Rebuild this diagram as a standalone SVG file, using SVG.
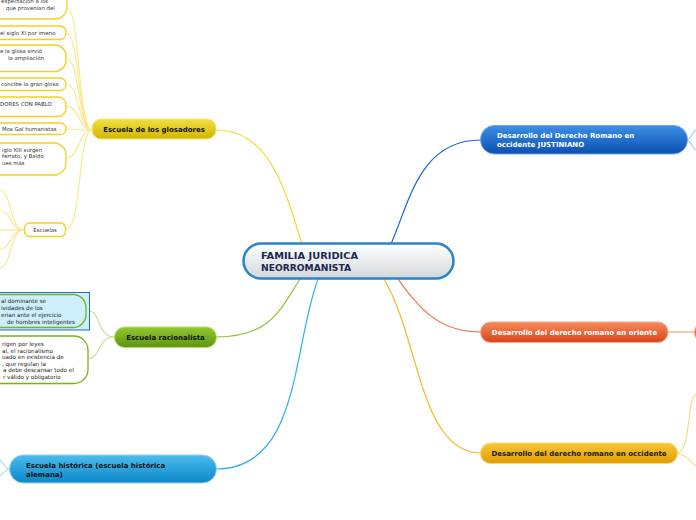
<svg xmlns="http://www.w3.org/2000/svg" width="696" height="520" viewBox="0 0 696 520">
<defs>
<linearGradient id="gCentral" x1="0" y1="0" x2="0" y2="1"><stop offset="0" stop-color="#ffffff"/><stop offset="1" stop-color="#d3d8dc"/></linearGradient>
<linearGradient id="gBlue" x1="0" y1="0" x2="0" y2="1"><stop offset="0" stop-color="#3d8fe4"/><stop offset="1" stop-color="#0b4fb2"/></linearGradient>
<linearGradient id="gOrange" x1="0" y1="0" x2="0" y2="1"><stop offset="0" stop-color="#f58a5e"/><stop offset="1" stop-color="#d8461a"/></linearGradient>
<linearGradient id="gGold" x1="0" y1="0" x2="0" y2="1"><stop offset="0" stop-color="#f8c63a"/><stop offset="1" stop-color="#e09d00"/></linearGradient>
<linearGradient id="gSky" x1="0" y1="0" x2="0" y2="1"><stop offset="0" stop-color="#4cbcee"/><stop offset="1" stop-color="#0a87c8"/></linearGradient>
<linearGradient id="gGreen" x1="0" y1="0" x2="0" y2="1"><stop offset="0" stop-color="#93c830"/><stop offset="1" stop-color="#5c9610"/></linearGradient>
<linearGradient id="gYellow" x1="0" y1="0" x2="0" y2="1"><stop offset="0" stop-color="#f0e040"/><stop offset="1" stop-color="#d2b500"/></linearGradient>
</defs>
<style>
.c{fill:none;stroke-width:1.2}
.t{font-family:"DejaVu Sans",Verdana,sans-serif;font-weight:bold;font-size:7px}
.s{font-family:"DejaVu Sans",Verdana,sans-serif;font-size:5.4px;fill:#333}
.r{font-family:"DejaVu Sans",Verdana,sans-serif;font-size:5.6px;fill:#1a1a1a}
.yb{fill:#fff;stroke:#f0d21c;stroke-width:1.3}
</style>
<rect width="696" height="520" fill="#fff"/>
<g id="connectors">
<path class="c" stroke="#1a64d0" d="M391,244 C410,200 420,140 481,140"/>
<path class="c" stroke="#f0d832" d="M302,244 C285,190 270,130 216,130"/>
<path class="c" stroke="#8fc23a" d="M300,279 C280,310 270,337 216,337"/>
<path class="c" stroke="#30b0e8" d="M318,279 C292,350 300,469 216,469"/>
<path class="c" stroke="#f5b820" d="M384,279 C420,340 420,453 481,453"/>
<path class="c" stroke="#f06a3c" d="M398,279 C420,310 440,332 481,332"/>
<g stroke="#a8c8f0" class="c"><path d="M687,140 C692,138 692,132 696,130"/><path d="M687,140 C692,142 692,148 696,150"/></g>
<path class="c" stroke="#f5a080" d="M668,332 L695,332"/>
<g stroke="#fad890" class="c"><path d="M677,453 C692,450 686,400 696,394"/><path d="M677,453 C688,455 690,462 696,466"/></g>
<g stroke="#a8daf4" class="c"><path d="M9,469 C5,468 3,462 0,460"/><path d="M9,469 C5,470 3,474 0,476"/></g>
<g stroke="#c8e294" class="c"><path d="M114,337 C98,337 100,311 89,311"/><path d="M114,337 C98,337 100,359 88,359"/></g>
<g stroke="#f8e890" class="c">
<path d="M92,130 C78,130 80,8 67,8"/>
<path d="M92,130 C78,130 80,33 66,33"/>
<path d="M92,130 C78,130 80,58 66,58"/>
<path d="M92,130 C78,130 80,84 66,84"/>
<path d="M92,130 C78,130 80,106 66,106"/>
<path d="M92,130 C80,130 78,129 66,129"/>
<path d="M92,130 C78,130 80,158 66,158"/>
<path d="M92,130 C78,130 82,229 66,229"/>
<path d="M24,230 C10,230 12,192 0,190"/>
<path d="M24,230 C10,230 12,212 0,210"/>
<path d="M24,230 L0,230"/>
<path d="M24,230 C10,230 12,248 0,249"/>
<path d="M24,230 C10,230 12,266 0,268"/>
</g>
</g>
<g id="central">
<rect x="243.5" y="243.5" width="210" height="35" rx="17.5" fill="url(#gCentral)" stroke="#2a85c8" stroke-width="2.5"/>
<text class="t" x="261" y="259" fill="#1a2a50" style="font-size:8.6px" textLength="97" lengthAdjust="spacingAndGlyphs">FAMILIA JURIDICA</text>
<text class="t" x="261" y="270.5" fill="#1a2a50" style="font-size:8.6px" textLength="90" lengthAdjust="spacingAndGlyphs">NEORROMANISTA</text>
</g>
<g id="n-occ-justiniano">
<rect x="480.5" y="125.5" width="207" height="28.5" rx="14" fill="url(#gBlue)" stroke="#6ea8ec" stroke-width="1"/>
<text class="t" x="497" y="138" fill="#fff">Desarrollo del Derecho Romano en</text>
<text class="t" x="497" y="147" fill="#fff">occidente JUSTINIANO</text>
</g>
<g id="n-oriente">
<rect x="480.5" y="322" width="187.5" height="20.5" rx="10" fill="url(#gOrange)" stroke="#f8a888" stroke-width="1"/>
<text class="t" x="574.5" y="335" text-anchor="middle" fill="#fff">Desarrollo del derecho romano en oriente</text>
</g>
<g id="n-oriente-child">
<rect x="694.5" y="322" width="20" height="20.5" rx="10" fill="url(#gOrange)" stroke="#f8a888" stroke-width="1"/>
</g>
<g id="n-occidente">
<rect x="480.5" y="443" width="197" height="20.5" rx="10" fill="url(#gGold)" stroke="#fbd870" stroke-width="1"/>
<text class="t" x="579" y="455.5" text-anchor="middle" fill="#1a1a1a">Desarrollo del derecho romano en occidente</text>
</g>
<g id="n-historica">
<rect x="9.5" y="455" width="207" height="28" rx="14" fill="url(#gSky)" stroke="#8cd4f4" stroke-width="1"/>
<text class="t" x="26" y="467.5" fill="#111">Escuela histórica (escuela histórica</text>
<text class="t" x="26" y="476.5" fill="#111">alemana)</text>
</g>
<g id="n-racionalista">
<rect x="114.5" y="327" width="102" height="20.5" rx="10" fill="url(#gGreen)" stroke="#b8dc7a" stroke-width="1"/>
<text class="t" x="165.5" y="339.5" text-anchor="middle" fill="#111">Escuela racionalista</text>
</g>
<g id="n-rac-1">
<rect x="-10" y="292.5" width="99.5" height="37.5" fill="#cdeefb" stroke="#1a6fd0" stroke-width="1"/>
<rect x="-20" y="294.5" width="106" height="33" rx="13" fill="#cdeefb" stroke="#7ab317" stroke-width="1.3"/>
<text class="r" x="1" y="303">al dominante se</text>
<text class="r" x="1" y="310">ividades de los</text>
<text class="r" x="1" y="317">erian ante el ejercicio</text>
<text class="r" x="7" y="323.5">de hombres inteligentes</text>
</g>
<g id="n-rac-2">
<rect x="-20" y="336" width="108" height="47.5" rx="14" fill="#fff" stroke="#7ab317" stroke-width="1.3"/>
<text class="r" x="2" y="346">rigen por leyes</text>
<text class="r" x="2" y="352.5">al, el racionalismo</text>
<text class="r" x="2" y="359">uado en existencia de</text>
<text class="r" x="2" y="365.5">, que regulan la</text>
<text class="r" x="3" y="372">a debe descansar todo el</text>
<text class="r" x="3" y="378.5">r válido y obligatorio</text>
</g>
<g id="n-glosadores">
<rect x="92" y="119" width="124" height="20" rx="9" fill="url(#gYellow)" stroke="#f4e680" stroke-width="1"/>
<text class="t" x="154" y="132" text-anchor="middle" fill="#111">Escuela de los glosadores</text>
</g>
<g id="g1">
<rect x="-20" y="-15" width="87" height="34" rx="12" class="yb"/>
<text class="s" x="1" y="3">expectación a los</text>
<text class="s" x="6" y="9.5">que provenian del</text>
</g>
<g id="g2">
<rect x="-20" y="26" width="86" height="13.5" rx="6" class="yb"/>
<text class="s" x="0" y="34.8">el siglo XI por imerio</text>
</g>
<g id="g3">
<rect x="-20" y="45" width="86" height="26.5" rx="11" class="yb"/>
<text class="s" x="0" y="53">e la glosa sirvió</text>
<text class="s" x="8" y="60">la ampliación</text>
</g>
<g id="g4">
<rect x="-20" y="78" width="86" height="12.5" rx="6" class="yb"/>
<text class="s" x="1" y="86.3">concibe la gran glosa</text>
</g>
<g id="g5">
<rect x="-20" y="97" width="86" height="19.5" rx="8" class="yb"/>
<text class="s" x="0" y="105.5">DORES CON PABLO</text>
</g>
<g id="g6">
<rect x="-20" y="123" width="86" height="11.5" rx="5.5" class="yb"/>
<text class="s" x="2" y="131">Mos Gal humanistas</text>
</g>
<g id="g7">
<rect x="-20" y="143" width="86" height="32" rx="12" class="yb"/>
<text class="s" x="2" y="151.5">iglo XIII surgen</text>
<text class="s" x="2" y="158">ferrato, y Baldo</text>
<text class="s" x="2" y="165">ues más</text>
</g>
<g id="g-escuelas">
<rect x="24.5" y="223" width="41" height="13.5" rx="5" class="yb"/>
<text class="s" x="45" y="231.8" text-anchor="middle">Escuelas</text>
</g>
</svg>
